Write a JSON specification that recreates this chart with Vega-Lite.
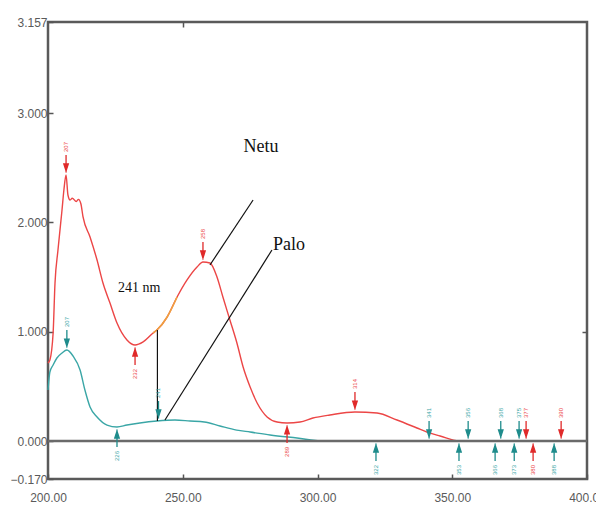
{
  "$schema": "https://vega.github.io/schema/vega-lite/v6.json",
  "width": 539,
  "height": 457,
  "autosize": {"type": "none"},
  "padding": {"left": 48, "top": 22, "right": 9, "bottom": 34},
  "background": "white",
  "config": {
    "view": {"stroke": "#5a5a5a", "strokeWidth": 2.5},
    "axis": {
      "domain": false,
      "grid": false,
      "labelFont": "Liberation Sans",
      "labelFontSize": 12,
      "labelColor": "#5a5a5a",
      "labelFlush": false,
      "tickColor": "#555555",
      "tickWidth": 1.5,
      "tickSize": -5,
      "title": null
    }
  },
  "resolve": {"axis": {"x": "independent", "y": "independent"}},
  "datasets": {
    "spectra": [
      {"trace": "Netu", "nm": 200.0, "abs": 0.713},
      {"trace": "Netu", "nm": 200.7, "abs": 0.741},
      {"trace": "Netu", "nm": 201.9, "abs": 0.988},
      {"trace": "Netu", "nm": 202.6, "abs": 1.445},
      {"trace": "Netu", "nm": 203.7, "abs": 1.747},
      {"trace": "Netu", "nm": 205.2, "abs": 2.113},
      {"trace": "Netu", "nm": 205.9, "abs": 2.296},
      {"trace": "Netu", "nm": 206.7, "abs": 2.433},
      {"trace": "Netu", "nm": 207.4, "abs": 2.25},
      {"trace": "Netu", "nm": 208.2, "abs": 2.204},
      {"trace": "Netu", "nm": 209.0, "abs": 2.22},
      {"trace": "Netu", "nm": 210.5, "abs": 2.19},
      {"trace": "Netu", "nm": 211.3, "abs": 2.21},
      {"trace": "Netu", "nm": 212.2, "abs": 2.17},
      {"trace": "Netu", "nm": 213.0, "abs": 2.049},
      {"trace": "Netu", "nm": 215.6, "abs": 1.866},
      {"trace": "Netu", "nm": 218.2, "abs": 1.655},
      {"trace": "Netu", "nm": 220.4, "abs": 1.445},
      {"trace": "Netu", "nm": 223.0, "abs": 1.262},
      {"trace": "Netu", "nm": 225.6, "abs": 1.079},
      {"trace": "Netu", "nm": 229.3, "abs": 0.924},
      {"trace": "Netu", "nm": 232.3, "abs": 0.878},
      {"trace": "Netu", "nm": 235.3, "abs": 0.906},
      {"trace": "Netu", "nm": 239.0, "abs": 0.988},
      {"trace": "Netu", "nm": 240.4, "abs": 1.015},
      {"trace": "Netu", "nm": 244.2, "abs": 1.134},
      {"trace": "Netu", "nm": 247.9, "abs": 1.317},
      {"trace": "Netu", "nm": 251.6, "abs": 1.473},
      {"trace": "Netu", "nm": 255.3, "abs": 1.591},
      {"trace": "Netu", "nm": 257.5, "abs": 1.637},
      {"trace": "Netu", "nm": 260.1, "abs": 1.628},
      {"trace": "Netu", "nm": 262.7, "abs": 1.5},
      {"trace": "Netu", "nm": 264.9, "abs": 1.317},
      {"trace": "Netu", "nm": 267.5, "abs": 1.107},
      {"trace": "Netu", "nm": 270.1, "abs": 0.896},
      {"trace": "Netu", "nm": 272.4, "abs": 0.677},
      {"trace": "Netu", "nm": 275.0, "abs": 0.494},
      {"trace": "Netu", "nm": 277.6, "abs": 0.348},
      {"trace": "Netu", "nm": 281.3, "abs": 0.22},
      {"trace": "Netu", "nm": 285.0, "abs": 0.174},
      {"trace": "Netu", "nm": 288.7, "abs": 0.165},
      {"trace": "Netu", "nm": 293.5, "abs": 0.174},
      {"trace": "Netu", "nm": 298.3, "abs": 0.21},
      {"trace": "Netu", "nm": 304.6, "abs": 0.238},
      {"trace": "Netu", "nm": 313.9, "abs": 0.265},
      {"trace": "Netu", "nm": 322.1, "abs": 0.256},
      {"trace": "Netu", "nm": 329.5, "abs": 0.192},
      {"trace": "Netu", "nm": 336.9, "abs": 0.119},
      {"trace": "Netu", "nm": 340.6, "abs": 0.082},
      {"trace": "Netu", "nm": 345.5, "abs": 0.046},
      {"trace": "Netu", "nm": 352.5, "abs": 0.0},
      {"trace": "Netu", "nm": 400.0, "abs": 0.0},
      {"trace": "Palo", "nm": 200.0, "abs": 0.466},
      {"trace": "Palo", "nm": 200.7, "abs": 0.631},
      {"trace": "Palo", "nm": 201.9, "abs": 0.695},
      {"trace": "Palo", "nm": 203.3, "abs": 0.759},
      {"trace": "Palo", "nm": 205.2, "abs": 0.805},
      {"trace": "Palo", "nm": 207.0, "abs": 0.832},
      {"trace": "Palo", "nm": 209.3, "abs": 0.777},
      {"trace": "Palo", "nm": 211.9, "abs": 0.649},
      {"trace": "Palo", "nm": 213.7, "abs": 0.466},
      {"trace": "Palo", "nm": 215.6, "abs": 0.311},
      {"trace": "Palo", "nm": 218.2, "abs": 0.22},
      {"trace": "Palo", "nm": 221.9, "abs": 0.146},
      {"trace": "Palo", "nm": 225.6, "abs": 0.128},
      {"trace": "Palo", "nm": 229.3, "abs": 0.146},
      {"trace": "Palo", "nm": 234.1, "abs": 0.165},
      {"trace": "Palo", "nm": 240.4, "abs": 0.183},
      {"trace": "Palo", "nm": 247.1, "abs": 0.192},
      {"trace": "Palo", "nm": 252.7, "abs": 0.183},
      {"trace": "Palo", "nm": 258.0, "abs": 0.174},
      {"trace": "Palo", "nm": 263.8, "abs": 0.137},
      {"trace": "Palo", "nm": 270.0, "abs": 0.1},
      {"trace": "Palo", "nm": 275.0, "abs": 0.082},
      {"trace": "Palo", "nm": 282.4, "abs": 0.055},
      {"trace": "Palo", "nm": 292.4, "abs": 0.027},
      {"trace": "Palo", "nm": 302.0, "abs": 0.0},
      {"trace": "Palo", "nm": 400.0, "abs": 0.0}
    ],
    "highlight": [
      {"nm": 239.0, "abs": 0.988},
      {"nm": 240.4, "abs": 1.015},
      {"nm": 244.2, "abs": 1.134},
      {"nm": 247.9, "abs": 1.317}
    ],
    "baseline": [{"abs": 0}],
    "guides": [
      {"nm": 276.1, "abs": 2.204, "nm2": 260.1, "abs2": 1.61},
      {"nm": 283.1, "abs": 1.747, "nm2": 243.4, "abs2": 0.192},
      {"nm": 240.6, "abs": 0.183, "nm2": 240.6, "abs2": 1.015}
    ],
    "notes": [
      {"nm": 279.0, "abs": 2.689, "text": "Netu", "size": "big"},
      {"nm": 289.4, "abs": 1.79, "text": "Palo", "size": "big"},
      {"nm": 233.8, "abs": 1.399, "text": "241 nm", "size": "small"}
    ],
    "picks": [
      {"trace": "Netu", "kind": "max", "nm": 206.7, "abs": 2.433},
      {"trace": "Netu", "kind": "max", "nm": 257.5, "abs": 1.637},
      {"trace": "Netu", "kind": "max", "nm": 313.9, "abs": 0.265},
      {"trace": "Netu", "kind": "max", "nm": 377.4, "abs": 0.0},
      {"trace": "Netu", "kind": "max", "nm": 390.4, "abs": 0.0},
      {"trace": "Netu", "kind": "min", "nm": 232.3, "abs": 0.878},
      {"trace": "Netu", "kind": "min", "nm": 288.7, "abs": 0.165},
      {"trace": "Netu", "kind": "min", "nm": 380.0, "abs": 0.0},
      {"trace": "Palo", "kind": "max", "nm": 207.0, "abs": 0.832},
      {"trace": "Palo", "kind": "max", "nm": 241.0, "abs": 0.183},
      {"trace": "Palo", "kind": "max", "nm": 341.4, "abs": 0.0},
      {"trace": "Palo", "kind": "max", "nm": 355.9, "abs": 0.0},
      {"trace": "Palo", "kind": "max", "nm": 368.0, "abs": 0.0},
      {"trace": "Palo", "kind": "max", "nm": 374.8, "abs": 0.0},
      {"trace": "Palo", "kind": "min", "nm": 225.6, "abs": 0.128},
      {"trace": "Palo", "kind": "min", "nm": 321.7, "abs": 0.0},
      {"trace": "Palo", "kind": "min", "nm": 352.5, "abs": 0.0},
      {"trace": "Palo", "kind": "min", "nm": 365.9, "abs": 0.0},
      {"trace": "Palo", "kind": "min", "nm": 373.0, "abs": 0.0},
      {"trace": "Palo", "kind": "min", "nm": 387.8, "abs": 0.0}
    ]
  },
  "layer": [
    {
      "data": {"name": "spectra"},
      "mark": {"type": "line", "strokeWidth": 1.4, "interpolate": "monotone"},
      "encoding": {
        "x": {"field": "nm", "type": "quantitative",
              "scale": {"domain": [200, 400], "nice": false, "zero": false},
              "axis": {"orient": "bottom", "values": [200, 250, 300, 350, 400], "format": ".2f", "labelPadding": 18}},
        "y": {"field": "abs", "type": "quantitative",
              "scale": {"domain": [-0.17, 0, 3, 3.157], "range": [457, 419, 91, 0], "nice": false, "zero": false},
              "axis": {"orient": "left", "values": [-0.17, 0, 1, 2, 3, 3.157], "format": ".3f", "labelPadding": 6}},
        "color": {"field": "trace", "type": "nominal",
                  "scale": {"domain": ["Netu", "Palo"], "range": ["#ec4646", "#3aa6a6"]}, "legend": null},
        "detail": {"field": "trace"}
      }
    },
    {
      "data": {"name": "highlight"},
      "mark": {"type": "line", "strokeWidth": 1.6, "color": "#f0a040", "interpolate": "monotone"},
      "encoding": {
        "x": {"field": "nm", "type": "quantitative", "scale": {"domain": [200, 400], "nice": false, "zero": false}, "axis": null},
        "y": {"field": "abs", "type": "quantitative", "scale": {"domain": [-0.17, 0, 3, 3.157], "range": [457, 419, 91, 0], "nice": false, "zero": false}, "axis": null}
      }
    },
    {
      "data": {"name": "baseline"},
      "mark": {"type": "rule", "color": "#6a6a6a", "strokeWidth": 2.5},
      "encoding": {
        "y": {"field": "abs", "type": "quantitative", "scale": {"domain": [-0.17, 0, 3, 3.157], "range": [457, 419, 91, 0], "nice": false, "zero": false}, "axis": null}
      }
    },
    {
      "data": {"name": "guides"},
      "mark": {"type": "rule", "color": "#111111", "strokeWidth": 1.2},
      "encoding": {
        "x": {"field": "nm", "type": "quantitative", "scale": {"domain": [200, 400], "nice": false, "zero": false},
              "axis": {"orient": "top", "values": [250], "labels": false}},
        "y": {"field": "abs", "type": "quantitative", "scale": {"domain": [-0.17, 0, 3, 3.157], "range": [457, 419, 91, 0], "nice": false, "zero": false},
              "axis": {"orient": "right", "values": [1], "labels": false}},
        "x2": {"field": "nm2"},
        "y2": {"field": "abs2"}
      }
    },
    {
      "data": {"name": "picks"},
      "transform": [{"filter": "datum.kind === 'max'"}],
      "mark": {"type": "point", "shape": "M0,-0.5L0,-4M-0.45,-2.2L0.45,-2.2L0,-0.8Z", "size": 100, "strokeWidth": 1.3, "opacity": 1},
      "encoding": {
        "x": {"field": "nm", "type": "quantitative", "scale": {"domain": [200, 400], "nice": false, "zero": false}, "axis": null},
        "y": {"field": "abs", "type": "quantitative", "scale": {"domain": [-0.17, 0, 3, 3.157], "range": [457, 419, 91, 0], "nice": false, "zero": false}, "axis": null},
        "fill": {"field": "trace", "type": "nominal", "scale": {"domain": ["Netu", "Palo"], "range": ["#e02a2a", "#1f8c8c"]}, "legend": null},
        "stroke": {"field": "trace", "type": "nominal", "scale": {"domain": ["Netu", "Palo"], "range": ["#e02a2a", "#1f8c8c"]}, "legend": null}
      }
    },
    {
      "data": {"name": "picks"},
      "transform": [{"filter": "datum.kind === 'min'"}],
      "mark": {"type": "point", "shape": "M0,0.5L0,4M-0.45,2.2L0.45,2.2L0,0.8Z", "size": 100, "strokeWidth": 1.3, "opacity": 1},
      "encoding": {
        "x": {"field": "nm", "type": "quantitative", "scale": {"domain": [200, 400], "nice": false, "zero": false}, "axis": null},
        "y": {"field": "abs", "type": "quantitative", "scale": {"domain": [-0.17, 0, 3, 3.157], "range": [457, 419, 91, 0], "nice": false, "zero": false}, "axis": null},
        "fill": {"field": "trace", "type": "nominal", "scale": {"domain": ["Netu", "Palo"], "range": ["#e02a2a", "#1f8c8c"]}, "legend": null},
        "stroke": {"field": "trace", "type": "nominal", "scale": {"domain": ["Netu", "Palo"], "range": ["#e02a2a", "#1f8c8c"]}, "legend": null}
      }
    },
    {
      "data": {"name": "picks"},
      "transform": [{"filter": "datum.kind === 'max'"}],
      "mark": {"type": "text", "angle": 270, "fontSize": 6, "font": "Liberation Sans", "yOffset": -28, "align": "center", "baseline": "middle"},
      "encoding": {
        "x": {"field": "nm", "type": "quantitative", "scale": {"domain": [200, 400], "nice": false, "zero": false}, "axis": null},
        "y": {"field": "abs", "type": "quantitative", "scale": {"domain": [-0.17, 0, 3, 3.157], "range": [457, 419, 91, 0], "nice": false, "zero": false}, "axis": null},
        "text": {"field": "nm", "type": "quantitative", "format": ".0f"},
        "color": {"field": "trace", "type": "nominal", "scale": {"domain": ["Netu", "Palo"], "range": ["#e02a2a", "#1f8c8c"]}, "legend": null}
      }
    },
    {
      "data": {"name": "picks"},
      "transform": [{"filter": "datum.kind === 'min'"}],
      "mark": {"type": "text", "angle": 270, "fontSize": 6, "font": "Liberation Sans", "yOffset": 29, "align": "center", "baseline": "middle"},
      "encoding": {
        "x": {"field": "nm", "type": "quantitative", "scale": {"domain": [200, 400], "nice": false, "zero": false}, "axis": null},
        "y": {"field": "abs", "type": "quantitative", "scale": {"domain": [-0.17, 0, 3, 3.157], "range": [457, 419, 91, 0], "nice": false, "zero": false}, "axis": null},
        "text": {"field": "nm", "type": "quantitative", "format": ".0f"},
        "color": {"field": "trace", "type": "nominal", "scale": {"domain": ["Netu", "Palo"], "range": ["#e02a2a", "#1f8c8c"]}, "legend": null}
      }
    },
    {
      "data": {"name": "notes"},
      "transform": [{"filter": "datum.size === 'big'"}],
      "mark": {"type": "text", "font": "Liberation Serif", "fontSize": 18, "color": "#111111", "align": "center", "baseline": "middle"},
      "encoding": {
        "x": {"field": "nm", "type": "quantitative", "scale": {"domain": [200, 400], "nice": false, "zero": false}, "axis": null},
        "y": {"field": "abs", "type": "quantitative", "scale": {"domain": [-0.17, 0, 3, 3.157], "range": [457, 419, 91, 0], "nice": false, "zero": false}, "axis": null},
        "text": {"field": "text"}
      }
    },
    {
      "data": {"name": "notes"},
      "transform": [{"filter": "datum.size === 'small'"}],
      "mark": {"type": "text", "font": "Liberation Serif", "fontSize": 14, "color": "#111111", "align": "center", "baseline": "middle"},
      "encoding": {
        "x": {"field": "nm", "type": "quantitative", "scale": {"domain": [200, 400], "nice": false, "zero": false}, "axis": null},
        "y": {"field": "abs", "type": "quantitative", "scale": {"domain": [-0.17, 0, 3, 3.157], "range": [457, 419, 91, 0], "nice": false, "zero": false}, "axis": null},
        "text": {"field": "text"}
      }
    }
  ]
}
